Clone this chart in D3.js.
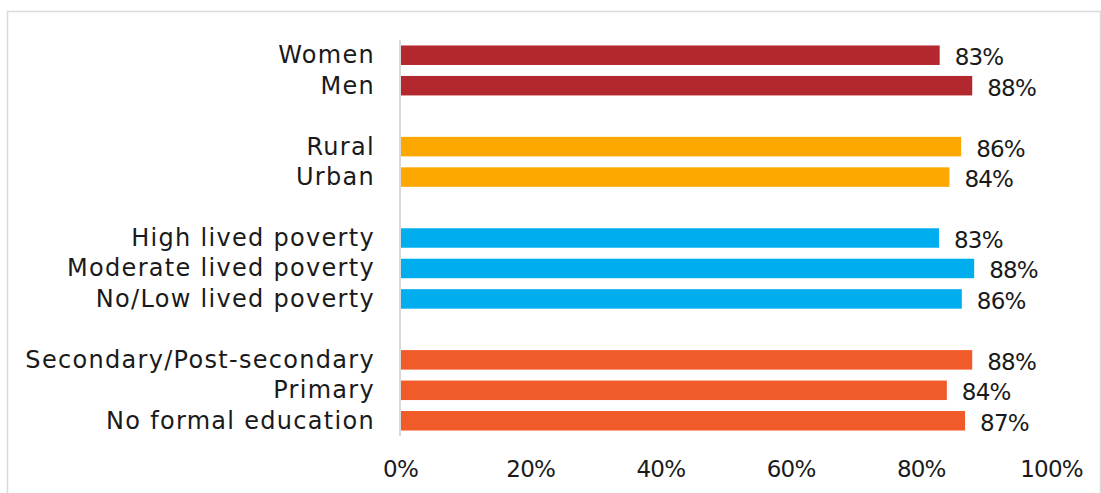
<!DOCTYPE html>
<html>
<head>
<meta charset="utf-8">
<script src="https://cdn.jsdelivr.net/npm/d3@7"></script>
<style>
  html, body { margin: 0; padding: 0; background: #fff; }
  svg { display: block; }
  text { font-family: "DejaVu Sans", sans-serif; fill: #1a1a1a; }
</style>
</head>
<body>
<div id="chart"></div>
<script>
// ---- Data ----
const categories = ["Women", "Men", "Rural", "Urban", "High lived poverty", "Moderate lived poverty",
  "No/Low lived poverty", "Secondary/Post-secondary", "Primary", "No formal education"];
const groups = ["Gender", "Gender", "Location", "Location", "Poverty", "Poverty", "Poverty",
  "Education", "Education", "Education"];
const values = [82.9, 87.9, 86.2, 84.4, 82.8, 88.2, 86.3, 87.9, 84.0, 86.8];
const groupNames = ["Gender", "Location", "Poverty", "Education"];
const groupColors = ["#b3282e", "#fda800", "#00aeef", "#f15a29"];
const tickValues = [0, 20, 40, 60, 80, 100];
const tickLabels = ["0%", "20%", "40%", "60%", "80%", "100%"];

// ---- Layout ----
const W = 1101, H = 493;
const svg = d3.select("#chart").append("svg").attr("width", W).attr("height", H);

// outer border (top, left, right)
svg.append("path")
  .attr("d", `M7.5,${H} L7.5,11.5 L1100.5,11.5 L1100.5,${H}`)
  .attr("fill", "none").attr("stroke", "#d9d9d9").attr("stroke-width", 1.5);

// build slots with spacer rows between groups
const rows = categories.map((c, i) => ({ key: c, cat: c, group: groups[i], value: values[i] }));
const slots = [];
rows.forEach((r, i) => {
  if (i > 0 && groups[i] !== groups[i - 1]) slots.push("__gap" + i);
  slots.push(r.key);
});

const x = d3.scaleLinear().domain([0, 100]).range([400, 1051]);
const y = d3.scaleBand().domain(slots).range([40, 436]).paddingInner(0.36).paddingOuter(0.18);
const color = d3.scaleOrdinal().domain(groupNames).range(groupColors);

// bars
svg.append("g").selectAll("rect").data(rows).join("rect")
  .attr("x", x(0))
  .attr("y", d => y(d.key))
  .attr("width", d => x(d.value) - x(0))
  .attr("height", y.bandwidth())
  .attr("fill", d => color(d.group));

// vertical axis line
svg.append("line")
  .attr("x1", x(0)).attr("x2", x(0))
  .attr("y1", 40).attr("y2", 436)
  .attr("stroke", "#d9d9d9").attr("stroke-width", 2);

// category labels
svg.append("g").selectAll("text").data(rows).join("text")
  .attr("x", 375)
  .attr("y", d => y(d.key) + y.bandwidth() / 2)
  .attr("text-anchor", "end")
  .attr("dominant-baseline", "central")
  .style("font-size", "24px")
  .style("letter-spacing", "1.3px")
  .text(d => d.cat);

// value labels
svg.append("g").selectAll("text").data(rows).join("text")
  .attr("x", d => x(d.value) + 15)
  .attr("y", d => y(d.key) + y.bandwidth() / 2 + 2)
  .attr("dominant-baseline", "central")
  .style("font-size", "23px")
  .style("letter-spacing", "-0.8px")
  .text(d => Math.round(d.value) + "%");

// x axis tick labels
const xAxis = d3.axisBottom(x).tickValues(tickValues)
  .tickFormat((d, i) => tickLabels[i]).tickSize(0).tickPadding(0);
const gx = svg.append("g").attr("transform", "translate(0,461)").call(xAxis);
gx.select(".domain").remove();
gx.selectAll("text")
  .attr("dy", "0.71em")
  .style("font-size", "23px")
  .style("letter-spacing", "-0.8px")
  .style("font-family", "DejaVu Sans, sans-serif")
  .attr("fill", "#1a1a1a");
</script>
</body>
</html>
